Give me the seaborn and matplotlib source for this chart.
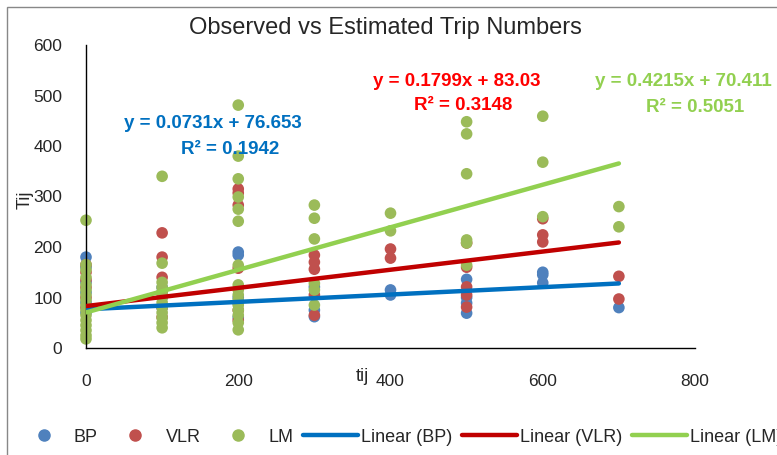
import numpy as np
import pandas as pd
import matplotlib
matplotlib.use("Agg")
import matplotlib.pyplot as plt
from matplotlib.patches import Rectangle
from matplotlib.lines import Line2D
import seaborn as sns

# ---- data ----
bp_x = [0]*6 + [100]*3 + [200]*4 + [300]*3 + [400]*2 + [500]*4 + [600]*3 + [700]
bp_y = [180, 160, 130, 110, 90, 70,
        120, 100, 80,
        190, 184, 100, 61,
        121, 75, 62,
        115, 105,
        136, 100, 89, 69,
        150, 145, 129,
        80]

vlr_x = [0]*6 + [100]*6 + [200]*7 + [300]*5 + [400]*2 + [500]*5 + [600]*3 + [700]*2
vlr_y = [165, 150, 135, 120, 100, 80,
         228, 180, 140, 110, 81, 61,
         315, 307, 283, 158, 89, 75, 55,
         184, 170, 156, 105, 65,
         196, 178,
         208, 160, 121, 105, 81,
         256, 224, 210,
         142, 97]

lm_x = [0]*16 + [100]*12 + [200]*16 + [300]*6 + [400]*2 + [500]*6 + [600]*3 + [700]*2
lm_y = [253, 165, 155, 140, 125, 115, 105, 95, 85, 75, 65, 55, 45, 35, 25, 18,
        340, 168, 130, 120, 110, 100, 90, 80, 70, 60, 50, 40,
        481, 380, 335, 299, 275, 251, 164, 125, 115, 105, 95, 85, 75, 65, 50, 36,
        283, 257, 216, 128, 115, 85,
        267, 232,
        448, 424, 345, 214, 208, 164,
        459, 368, 260,
        280, 240]

series = ["BP", "VLR", "LM"]
slopes = [0.0731, 0.1799, 0.4215]
intercepts = [76.653, 83.03, 70.411]
r2 = [0.1942, 0.3148, 0.5051]
trend_range = [0, 700]

x_ticks = [0, 200, 400, 600, 800]
y_ticks = [0, 100, 200, 300, 400, 500, 600]

point_colors = ["#4F81BD", "#C0504D", "#9BBB59"]
line_colors = ["#0070C0", "#C00000", "#92D050"]
eq_colors = ["#0070C0", "#FF0000", "#92D050"]

df = pd.DataFrame({
    "tij": bp_x + vlr_x + lm_x,
    "Tij": bp_y + vlr_y + lm_y,
    "series": ["BP"] * len(bp_x) + ["VLR"] * len(vlr_x) + ["LM"] * len(lm_x),
})

sns.set_style("white")
FONT = ["Liberation Sans", "DejaVu Sans"]
plt.rcParams["font.family"] = FONT

fig = plt.figure(figsize=(7.77, 4.55), dpi=100)
ax = fig.add_axes([86/777, 1-348/455, (695-86)/777, (348-45)/455])

sns.scatterplot(data=df, x="tij", y="Tij", hue="series", hue_order=series,
                palette=point_colors, s=70, edgecolor="none", linewidth=0,
                ax=ax, zorder=2, legend=False)
for coll in ax.collections:
    coll.set_clip_on(False)

xs = np.array(trend_range, dtype=float)
for name, m, b, c in zip(series, slopes, intercepts, line_colors):
    ax.plot(xs, m * xs + b, color=c, lw=3.2, solid_capstyle="round", zorder=3)

ax.set_xlim(0, 800)
ax.set_ylim(0, 600)
ax.set_xticks(x_ticks)
ax.set_yticks(y_ticks)
ax.tick_params(axis="both", labelsize=12.5, length=5, width=1, color="#888888",
               direction="out")
ax.tick_params(axis="y", pad=12)
ax.tick_params(axis="x", pad=14)
for sp in ["top", "right"]:
    ax.spines[sp].set_visible(False)
for sp in ["left", "bottom"]:
    ax.spines[sp].set_color("black")
    ax.spines[sp].set_linewidth(1.0)
ax.set_xlabel("tij", fontsize=13)
ax.set_ylabel("Tij", fontsize=13)
ax.xaxis.set_label_coords((362-86)/609, -0.065)
ax.yaxis.set_label_coords((34-86)/609, 0.49)

fig.text(385/777, 1-28/455, "Observed vs Estimated Trip Numbers", fontsize=17,
         ha="center", va="center")

eq_pos = [((213, 124), (230, 149)), ((457, 82), (463, 106)), ((683, 82), (695, 107))]
for m, b, rr, c, (p1, p2) in zip(slopes, intercepts, r2, eq_colors, eq_pos):
    fig.text(p1[0]/777, 1-p1[1]/455, f"y = {m:g}x + {b:g}", color=c, fontsize=13.5,
             fontweight="bold", ha="center", va="center")
    fig.text(p2[0]/777, 1-p2[1]/455, f"R² = {rr:.4f}", color=c, fontsize=13.5,
             fontweight="bold", ha="center", va="center")

# legend
handles = [Line2D([], [], marker="o", ls="none", color=c, markersize=8) for c in point_colors]
handles += [Line2D([], [], color=c, lw=3.2) for c in line_colors]
labels = series + [f"Linear ({s})" for s in series]
fig.legend(handles, labels, loc="center left", bbox_to_anchor=(16/777, 1-437/455),
           ncol=6, frameon=False, fontsize=13, handlelength=3.05, handletextpad=0.15,
           columnspacing=0.55, borderaxespad=0, borderpad=0)

fig.patches.append(Rectangle((7/777, -0.1), 1.2, 1.1 - 7/455, transform=fig.transFigure,
                             fill=False, edgecolor="#888888", lw=1.0, zorder=0))

fig.savefig("out.png", dpi=100)
